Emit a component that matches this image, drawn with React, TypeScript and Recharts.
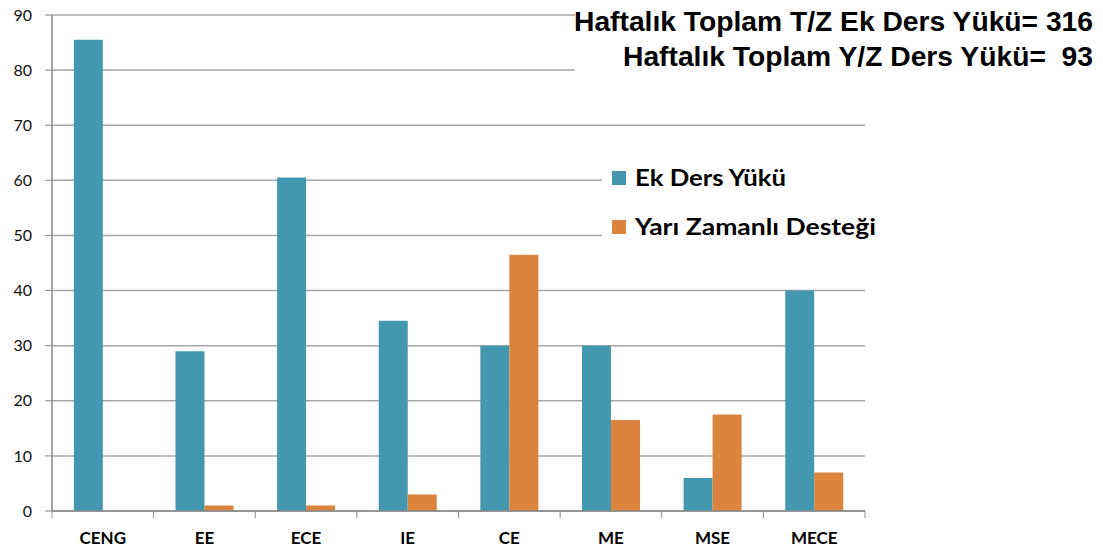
import React from "react";
import { BarChart, Bar, XAxis, YAxis, CartesianGrid } from "recharts";

const categories = ["CENG", "EE", "ECE", "IE", "CE", "ME", "MSE", "MECE"];
const ekDersYuku = [85.5, 29, 60.5, 34.5, 30, 30, 6, 40];
const yariZamanli = [0, 1, 1, 3, 46.5, 16.5, 17.5, 7];
const yTicks = [0, 10, 20, 30, 40, 50, 60, 70, 80, 90];
const seriesNames = ["Ek Ders Yükü", "Yarı Zamanlı Desteği"];
const titleLines = ["Haftalık Toplam T/Z Ek Ders Yükü= 316", "Haftalık Toplam Y/Z Ders Yükü=  93"];

const BLUE = "#4398B0";
const ORANGE = "#DA843E";
const AXIS = "#888888";
const GRID = "#A6A6A6";

const data = categories.map((c, i) => ({ name: c, ek: ekDersYuku[i], yz: yariZamanli[i] }));

const XTick = (props: any) => {
  const { x, y, payload, index } = props;
  const off = payload.offset ?? 50.8;
  return (
    <g>
      <line x1={x - off} x2={x - off} y1={y} y2={y + 7} stroke={AXIS} strokeWidth={1} />
      {index === categories.length - 1 && (
        <line x1={x + off} x2={x + off} y1={y} y2={y + 7} stroke={AXIS} strokeWidth={1} />
      )}
      <text x={x} y={y + 33} textAnchor="middle" fontFamily="Lato" fontWeight="bold" fontSize={17} fill="#000">
        {payload.value}
      </text>
    </g>
  );
};

export default function App() {
  return (
    <div style={{ position: "absolute", left: 0, top: 0, width: 1103, height: 549, background: "#fff" }}>
      <BarChart
        width={1103}
        height={549}
        data={data}
        margin={{ top: 15, right: 238, bottom: 0, left: 0 }}
        barCategoryGap="21.5%"
        barGap={0}
      >
        <CartesianGrid horizontal vertical={false} stroke={GRID} strokeWidth={1.5} />
        <XAxis
          dataKey="name"
          height={38}
          axisLine={{ stroke: AXIS, strokeWidth: 1.5 }}
          tickLine={false}
          tickSize={0}
          tickMargin={0}
          tick={<XTick />}
          interval={0}
        />
        <YAxis
          width={52}
          domain={[0, 90]}
          ticks={yTicks}
          interval={0}
          axisLine={{ stroke: AXIS, strokeWidth: 1.5 }}
          tickLine={{ stroke: AXIS }}
          tickSize={7}
          tickMargin={13}
          tick={{ fontFamily: "Lato", fontSize: 16, fill: "#111" }}
        />
        <Bar dataKey="ek" name={seriesNames[0]} fill={BLUE} isAnimationActive={false} />
        <Bar dataKey="yz" name={seriesNames[1]} fill={ORANGE} isAnimationActive={false} />
      </BarChart>
      <svg width={1103} height={549} style={{ position: "absolute", left: 0, top: 0, display: "block", pointerEvents: "none" }}>
        <rect x={575} y={0} width={528} height={78} fill="#fff" />
        <text x={1093} y={31} textAnchor="end" fontFamily="Liberation Sans" fontWeight="bold" fontSize={27} fill="#000" textLength={519} lengthAdjust="spacingAndGlyphs">
          {titleLines[0]}
        </text>
        <text x={1093} y={66} textAnchor="end" fontFamily="Liberation Sans" fontWeight="bold" fontSize={27} fill="#000" textLength={470} lengthAdjust="spacingAndGlyphs" style={{ whiteSpace: "pre" }}>
          {titleLines[1]}
        </text>
        <rect x={602} y={150} width={270} height={100} fill="#fff" />
        <rect x={612} y={171} width={14} height={14} fill={BLUE} />
        <text x={635} y={186} fontFamily="Lato" fontWeight="bold" fontSize={23} fill="#000" textLength={151} lengthAdjust="spacingAndGlyphs">
          {seriesNames[0]}
        </text>
        <rect x={612} y={220} width={14} height={14} fill={ORANGE} />
        <text x={635} y={235} fontFamily="Lato" fontWeight="bold" fontSize={23} fill="#000" textLength={241} lengthAdjust="spacingAndGlyphs">
          {seriesNames[1]}
        </text>
      </svg>
    </div>
  );
}
